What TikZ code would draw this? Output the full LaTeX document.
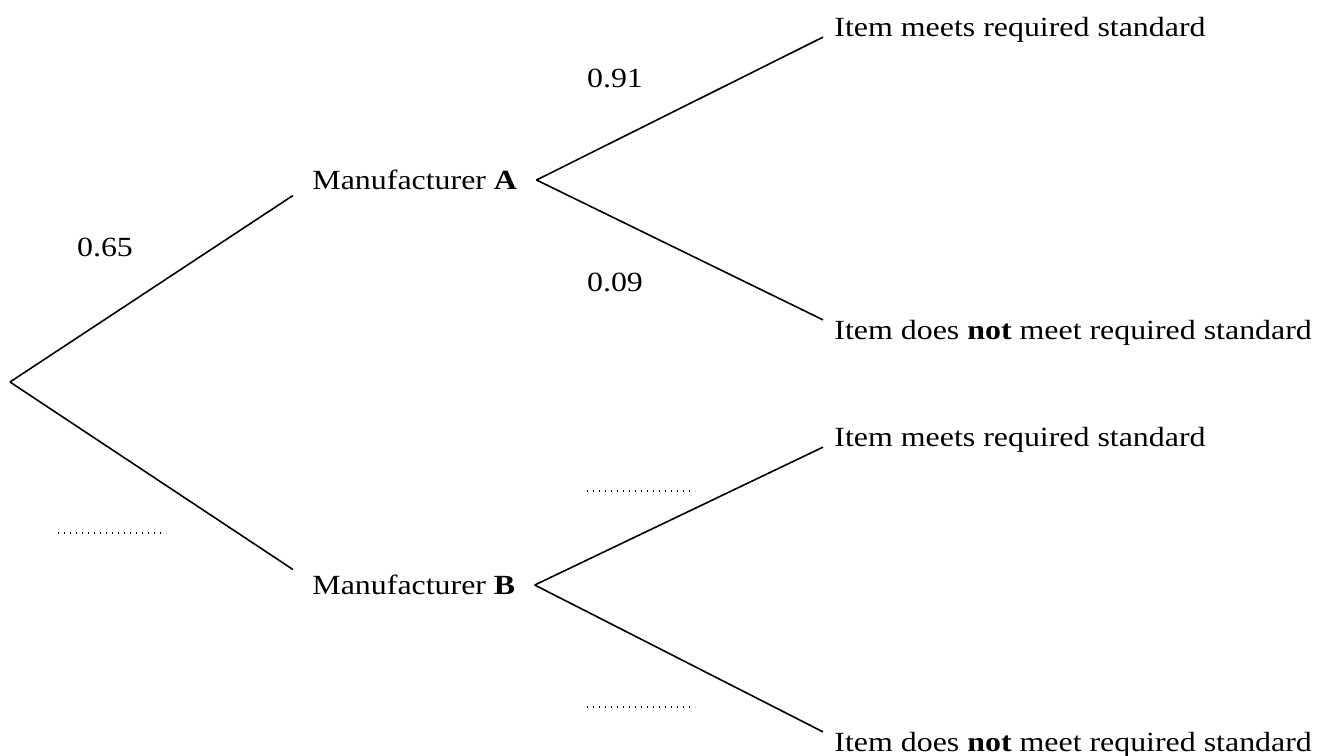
\documentclass[tikz,border=0pt]{standalone}
\usepackage{fontspec}
\setmainfont{Liberation Serif}[FakeStretch=1.15]

\begin{document}
\begin{tikzpicture}[x=0.375pt,y=-0.375pt,line width=0.6pt,
  font=\fontsize{10.4}{12}\selectfont,
  maker/.style={anchor=west,inner xsep=7pt,inner ysep=2pt,text height=0.7em,text depth=0pt},
  outcome/.style={anchor=west,inner xsep=4pt,inner ysep=0pt,text height=0.7em,text depth=0pt},
  prob/.style={inner sep=0pt},
  blank/.style={line width=0.5pt,dash pattern=on 0.5pt off 1.75pt}]

\useasboundingbox (0,0) rectangle (1318,755);

% first stage
\coordinate (Start) at (10,382);
\node[maker] (ManufA) at (293,180) {Manufacturer \textbf{A}};
\node[maker] (ManufB) at (293,585) {Manufacturer \textbf{B}};

% second stage
\node[outcome] (MeetsA) at (823,27) {Item meets required standard};
\node[outcome] (FailsA) at (823,330) {Item does \textbf{not} meet required standard};
\node[outcome] (MeetsB) at (823,437) {Item meets required standard};
\node[outcome] (FailsB) at (823,742) {Item does \textbf{not} meet required standard};

\draw (Start) to (ManufA.south west);
\draw (Start) to (ManufB.north west);

\draw (ManufA.east) to (MeetsA.south west);
\draw (ManufA.east) to (FailsA.north west);
\draw (ManufB.east) to (MeetsB.south west);
\draw (ManufB.east) to (FailsB.north west);

% probabilities
\node[prob] (ProbA) at (105,247) {0.65};
\node[prob] (ProbAMeets) at (615,78) {0.91};
\node[prob] (ProbAFails) at (615,282) {0.09};

% blanks to fill in
\draw[blank] (58,533) -- (166,533);
\draw[blank] (587,491) -- (695,491);
\draw[blank] (587,707) -- (695,707);

\end{tikzpicture}
\end{document}
